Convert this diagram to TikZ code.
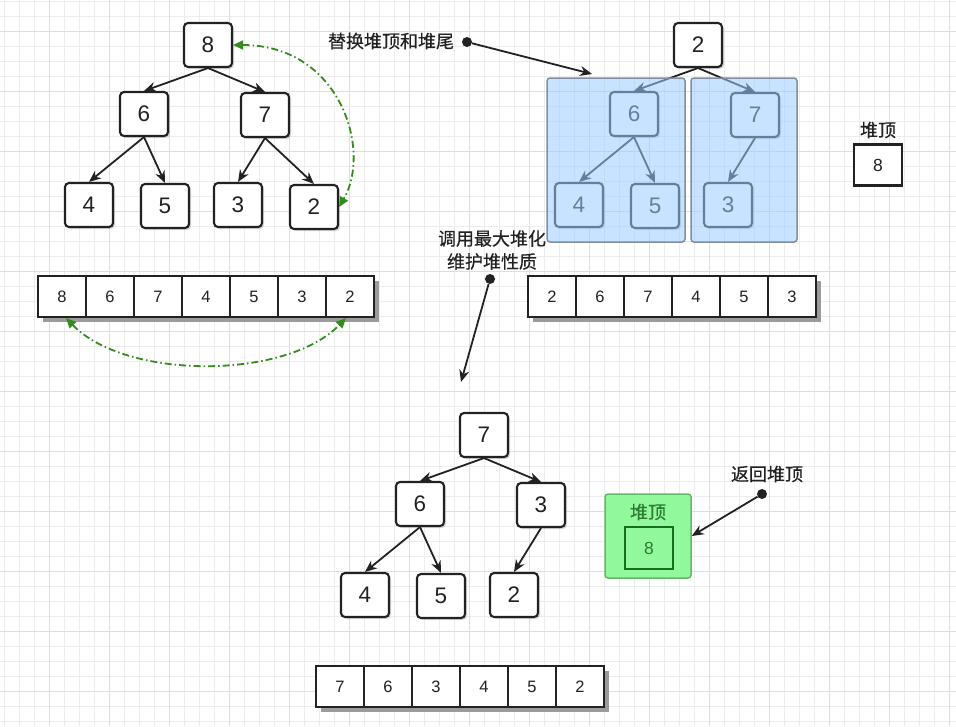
\documentclass[tikz,border=0pt]{standalone}
\usepackage{fontspec}
\setmainfont{Liberation Sans}
\newfontfamily\cjk[FakeBold=0.35]{Noto Sans CJK SC}
\usetikzlibrary{arrows.meta,shadows}
\definecolor{ink}{RGB}{34,34,34}
\definecolor{gridminor}{RGB}{237,237,237}
\definecolor{gridmajor}{RGB}{222,222,222}
\definecolor{swapgreen}{RGB}{52,140,28}
\definecolor{subblue}{RGB}{153,204,255}
\definecolor{subedge}{RGB}{128,142,160}
\definecolor{topgreen}{RGB}{145,248,155}
\definecolor{topedge}{RGB}{100,185,100}
\definecolor{topink}{RGB}{20,110,30}
\definecolor{shadowgray}{RGB}{155,155,155}

\begin{document}
\begin{tikzpicture}[x=1pt,y=-1pt]
\tikzstyle{gminor}=[gridminor,line width=1pt]
\tikzstyle{gmajor}=[gridmajor,line width=1pt]
\tikzstyle{heapkey}=[rectangle,rounded corners=4pt,draw=ink,fill=white,line width=2.1pt,minimum width=48pt,minimum height=44pt,inner sep=0pt,text=ink,font=\fontsize{22.5}{22.5}\selectfont,drop shadow={shadow xshift=2pt,shadow yshift=-2pt,opacity=.3}]
\tikzstyle{arrcell}=[rectangle,draw=ink,fill=white,line width=2.1pt,minimum width=48pt,minimum height=41pt,inner sep=0pt,text=ink,font=\fontsize{16.5}{16.5}\selectfont,drop shadow={shadow xshift=5pt,shadow yshift=-5pt,fill=shadowgray,opacity=1}]
\tikzstyle{topkey}=[rectangle,draw=ink,line width=2.1pt,minimum width=48pt,minimum height=41pt,inner sep=0pt,text=ink,font=\fontsize{17.5}{17.5}\selectfont]
\tikzstyle{link}=[-{Stealth[length=12pt,width=10pt]},ink,line width=1.8pt]
\tikzstyle{pointer}=[-{Stealth[length=12pt,width=10pt]},ink,line width=1.8pt]
\tikzstyle{dot}=[circle,fill=ink,minimum size=10pt,inner sep=0pt]
\tikzstyle{note}=[font=\cjk\fontsize{18}{23}\selectfont,text=ink,align=center,inner sep=0pt]
\tikzstyle{swaparc}=[{Triangle[length=10pt,width=9pt]}-{Triangle[length=10pt,width=9pt]},swapgreen,line width=1.8pt,dash pattern=on 7pt off 3pt on 1.5pt off 3pt]
\tikzstyle{subtree}=[rectangle,rounded corners=3pt,draw=subedge,line width=1.5pt,fill=subblue,fill opacity=.55,draw opacity=1,inner sep=0pt]
\tikzstyle{topbox}=[rectangle,rounded corners=3pt,draw=topedge,line width=1.5pt,fill=topgreen,inner sep=0pt]

\useasboundingbox (0,0) rectangle (956,726);
\fill[white] (0,0) rectangle (956,726);
\foreach \gx in {4,19,...,949} \draw[gminor] (\gx,0) -- (\gx,726);
\foreach \gy in {1,16,...,721} \draw[gminor] (0,\gy) -- (956,\gy);
\foreach \gx in {49,109,...,949} \draw[gmajor] (\gx,0) -- (\gx,726);
\foreach \gy in {31,91,...,691} \draw[gmajor] (0,\gy) -- (956,\gy);

\path
	(208,45) node[heapkey] (u8) {8}
	(144,114) node[heapkey] (u6) {6}
	(265,115) node[heapkey] (u7) {7}
	(89,205) node[heapkey] (u4) {4}
	(165,206) node[heapkey] (u5) {5}
	(238,205) node[heapkey] (u3) {3}
	(314,207) node[heapkey] (u2) {2}
;
\draw[link] (u8.south) -- (u6.north);
\draw[link] (u8.south) -- (u7.north);
\draw[link] (u6.south) -- (u4.north);
\draw[link] (u6.south) -- (u5.north);
\draw[link] (u7.south) -- (u3.north);
\draw[link] (u7.south) -- (u2.north);
\draw[swaparc] (u8.east) .. controls (340,45) and (372,150) .. (u2.east);

\path
	(62,296.5) node[arrcell] (x1) {8}
	(110,296.5) node[arrcell] (x2) {6}
	(158,296.5) node[arrcell] (x3) {7}
	(206,296.5) node[arrcell] (x4) {4}
	(254,296.5) node[arrcell] (x5) {5}
	(302,296.5) node[arrcell] (x6) {3}
	(350,296.5) node[arrcell] (x7) {2}
;
\draw[swaparc] ([xshift=4pt]x1.south) .. controls (126,380) and (286,380) .. ([xshift=-4pt]x7.south);

\path
	(698,45) node[heapkey] (v2) {2}
	(634,114) node[heapkey] (v6) {6}
	(755,115) node[heapkey] (v7) {7}
	(579,205) node[heapkey] (v4) {4}
	(655,206) node[heapkey] (v5) {5}
	(728,205) node[heapkey] (v3) {3}
;
\draw[link] (v2.south) -- (v6.north);
\draw[link] (v2.south) -- (v7.north);
\draw[link] (v6.south) -- (v4.north);
\draw[link] (v6.south) -- (v5.north);
\draw[link] (v7.south) -- (v3.north);
\node[subtree,minimum width=138pt,minimum height=164pt] (left) at (616,160) {};
\node[subtree,minimum width=106pt,minimum height=164pt] (right) at (744,160) {};

\path
	(552,296.5) node[arrcell] (y1) {2}
	(600,296.5) node[arrcell] (y2) {6}
	(648,296.5) node[arrcell] (y3) {7}
	(696,296.5) node[arrcell] (y4) {4}
	(744,296.5) node[arrcell] (y5) {5}
	(792,296.5) node[arrcell] (y6) {3}
;

\node[note] (swaplabel) at (391,41) {替换堆顶和堆尾};
\node[dot] (swapdot) at (467,42) {};
\coordinate (swapend) at (592,74);
\draw[pointer] (swapdot) -- (swapend);

\node[note] (toplabel) at (878,130) {堆顶};
\node[topkey,fill=white] (topval) at (878,165) {8};

\node[note] (heaplabel) at (492,250) {调用最大堆化\\维护堆性质};
\node[dot] (heapdot) at (490,279) {};
\coordinate (heapend) at (461,382);
\draw[pointer] (heapdot) -- (heapend);

\path
	(484,435) node[heapkey] (w7) {7}
	(420,504) node[heapkey] (w6) {6}
	(541,505) node[heapkey] (w3) {3}
	(365,595) node[heapkey] (w4) {4}
	(441,596) node[heapkey] (w5) {5}
	(514,595) node[heapkey] (w2) {2}
;
\draw[link] (w7.south) -- (w6.north);
\draw[link] (w7.south) -- (w3.north);
\draw[link] (w6.south) -- (w4.north);
\draw[link] (w6.south) -- (w5.north);
\draw[link] (w3.south) -- (w2.north);

\path
	(340,686.5) node[arrcell] (z1) {7}
	(388,686.5) node[arrcell] (z2) {6}
	(436,686.5) node[arrcell] (z3) {3}
	(484,686.5) node[arrcell] (z4) {4}
	(532,686.5) node[arrcell] (z5) {5}
	(580,686.5) node[arrcell] (z6) {2}
;

\node[topbox,minimum width=86pt,minimum height=84pt] (ret) at (648,536) {};
\node[note,text=topink!90] (retlabel) at (648,512) {堆顶};
\node[topkey,draw=topink,text=topink!90,minimum height=42pt] (retval) at (649,548) {8};
\node[note] (backlabel) at (767,474) {返回堆顶};
\node[dot] (retdot) at (762,494) {};
\draw[pointer] (retdot) -- (ret.east);
\end{tikzpicture}
\end{document}
